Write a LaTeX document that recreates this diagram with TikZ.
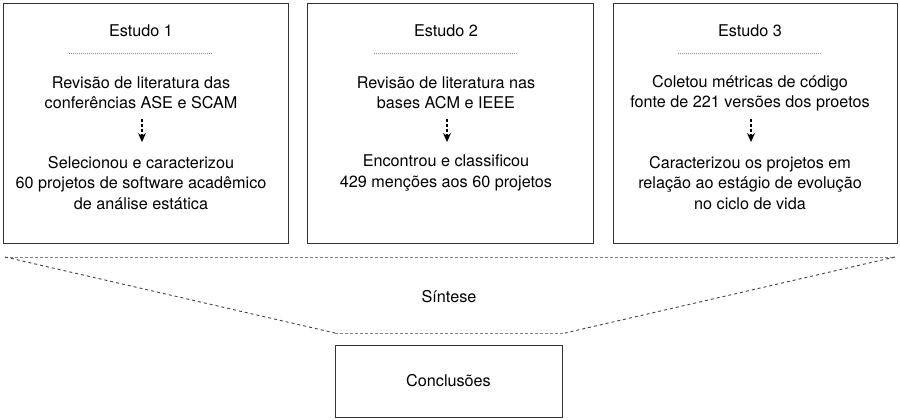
\documentclass[tikz,border=0pt]{standalone}
\usepackage{fontspec}
\setmainfont{TeX Gyre Heros}
\usetikzlibrary{arrows.meta}
\begin{document}
\begin{tikzpicture}[x=1pt,y=-1pt,
  every node/.style={font=\fontsize{16.2}{20.3}\selectfont, align=center, inner sep=0pt},
  studybox/.style={draw=black!80, line width=0.9pt},
  sepline/.style={draw=black!45, line width=0.6pt, dash pattern=on 1pt off 1pt},
  flowarrow/.style={draw=black, line width=1.1pt, dash pattern=on 3pt off 2pt, -{Stealth[length=9pt,width=8pt]}},
  greydash/.style={draw=black!50, line width=0.9pt, dash pattern=on 3pt off 2pt},
  darkdash/.style={draw=black!75, line width=0.9pt, dash pattern=on 3pt off 3pt}]
\useasboundingbox (0,0) rectangle (900,420);
% boxes
\draw[studybox] (3,3) rectangle (288,243);
\draw[studybox] (307,3) rectangle (593,243);
\draw[studybox] (613,3) rectangle (897,243);
% Study 1
\node (t1) at (141,31) {Estudo 1};
\draw[sepline] (69,53) -- (213,53);
\node (a1) at (141,93) {Revisão de literatura das\\conferências ASE e SCAM};
\node (b1) at (141,183) {Selecionou e caracterizou\\60 projetos de software acadêmico\\de análise estática};
\coordinate (a1s) at (142,119);
\coordinate (a1e) at (142,142);
\draw[flowarrow] (a1s) -- (a1e);
% Study 2
\node (t2) at (446,31) {Estudo 2};
\draw[sepline] (374,53) -- (518,53);
\node (a2) at (446,93) {Revisão de literatura nas\\bases ACM e IEEE};
\node (b2) at (446,173) {Encontrou e classificou\\429 menções aos 60 projetos};
\coordinate (a2s) at (447,119);
\coordinate (a2e) at (447,142);
\draw[flowarrow] (a2s) -- (a2e);
% Study 3
\node (t3) at (750,31) {Estudo 3};
\draw[sepline] (678,53) -- (822,53);
\node (a3) at (750,93) {Coletou métricas de código\\fonte de 221 versões dos proetos};
\node (b3) at (750,183) {Caracterizou os projetos em\\relação ao estágio de evolução\\no ciclo de vida};
\coordinate (a3s) at (751,119);
\coordinate (a3e) at (751,142);
\draw[flowarrow] (a3s) -- (a3e);
% synthesis funnel
\coordinate (tl) at (5,257);
\coordinate (tr) at (895,257);
\coordinate (bl) at (335,333);
\coordinate (br) at (565,333);
\draw[greydash] (tl) -- (tr);
\draw[greydash] (bl) -- (br);
\draw[darkdash] (tl) -- (bl);
\draw[darkdash] (tr) -- (br);
\node (sint) at (449,297) {Síntese};
% conclusions
\node[studybox, minimum width=227pt, minimum height=72pt] (conc) at (448.5,381) {Conclusões};
\end{tikzpicture}
\end{document}
